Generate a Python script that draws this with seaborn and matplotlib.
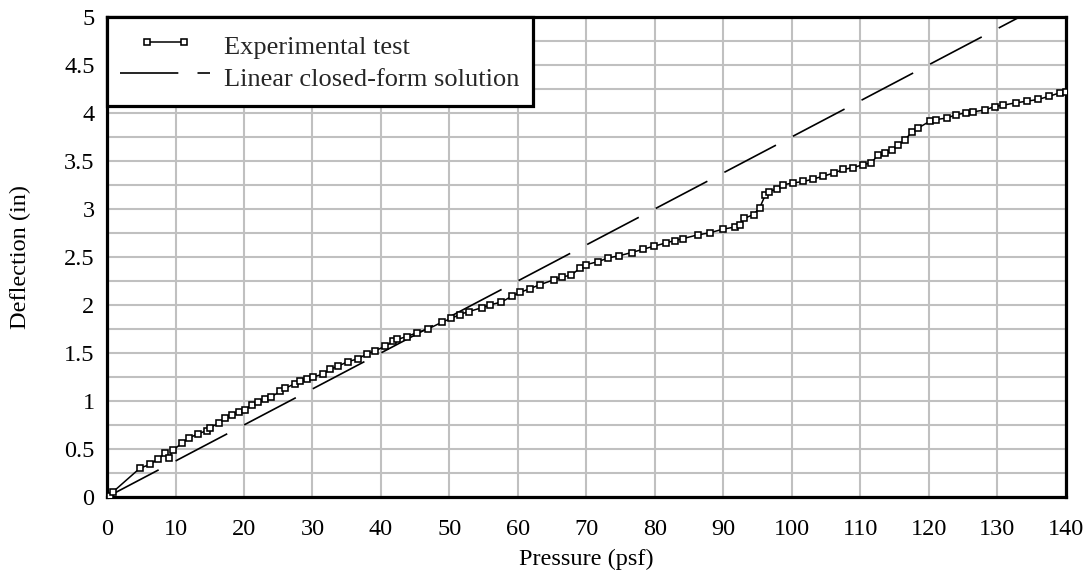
import matplotlib
matplotlib.use("Agg")
import matplotlib.pyplot as plt
from matplotlib.legend_handler import HandlerLine2D
from matplotlib.ticker import MultipleLocator, FormatStrFormatter
import seaborn as sns
import pandas as pd

# Experimental test data (pressure psf, deflection in)
exp_pressure = [0, 0.2, 0.4, 0.9, 4.8, 6.3, 7.5, 8.5, 9.0, 9.7, 10.9, 11.9, 13.3, 14.6, 15.0,
                16.3, 17.2, 18.2, 19.2, 20.2, 21.1, 22.1, 23.1, 24.0, 25.3, 26.0, 27.4, 28.2,
                29.2, 30.1, 31.6, 32.6, 33.8, 35.2, 36.7, 37.9, 39.1, 40.6, 41.8, 42.3, 43.8,
                45.2, 46.9, 48.9, 50.3, 51.5, 52.8, 54.7, 55.9, 57.6, 59.1, 60.3, 61.8, 63.2,
                65.2, 66.4, 67.8, 69.0, 70.0, 71.7, 73.2, 74.7, 76.6, 78.3, 79.8, 81.6, 82.9,
                84.1, 86.3, 88.0, 90.0, 91.7, 92.4, 93.0, 94.4, 95.3, 96.1, 96.6, 97.8, 98.7,
                100.2, 101.7, 103.1, 104.6, 106.2, 107.5, 109.0, 110.4, 111.6, 112.6, 113.6,
                114.6, 115.5, 116.5, 117.5, 118.4, 120.1, 121.1, 122.6, 124.0, 125.5, 126.5,
                128.2, 129.6, 130.9, 132.8, 134.3, 136.0, 137.5, 139.2, 140.0]
exp_deflection = [0, 0.0, 0.01, 0.055, 0.30, 0.34, 0.40, 0.455, 0.41, 0.49, 0.56, 0.61, 0.66,
                  0.69, 0.72, 0.77, 0.82, 0.855, 0.88, 0.91, 0.96, 0.99, 1.02, 1.045, 1.10, 1.13,
                  1.18, 1.21, 1.23, 1.25, 1.28, 1.33, 1.365, 1.41, 1.44, 1.49, 1.52, 1.57, 1.62,
                  1.64, 1.67, 1.71, 1.75, 1.82, 1.86, 1.90, 1.93, 1.97, 2.00, 2.03, 2.09, 2.13,
                  2.17, 2.21, 2.26, 2.29, 2.31, 2.38, 2.42, 2.45, 2.49, 2.51, 2.545, 2.58, 2.61,
                  2.645, 2.67, 2.69, 2.73, 2.75, 2.79, 2.81, 2.83, 2.90, 2.94, 3.01, 3.14, 3.18,
                  3.205, 3.25, 3.27, 3.285, 3.31, 3.34, 3.375, 3.41, 3.43, 3.46, 3.48, 3.56,
                  3.58, 3.61, 3.66, 3.72, 3.795, 3.84, 3.91, 3.93, 3.945, 3.98, 4.00, 4.01, 4.03,
                  4.065, 4.08, 4.105, 4.12, 4.14, 4.17, 4.21, 4.22]

# Linear closed-form solution
lin_pressure = [0, 140]
lin_deflection = [0, 5.25]

x_ticks = list(range(0, 141, 10))
y_ticks = [0, 0.5, 1, 1.5, 2, 2.5, 3, 3.5, 4, 4.5, 5]

exp_df = pd.DataFrame({"Pressure": exp_pressure, "Deflection": exp_deflection})
lin_df = pd.DataFrame({"Pressure": lin_pressure, "Deflection": lin_deflection})

sns.set_theme(style="white")
plt.rcParams["font.family"] = ["Liberation Serif", "DejaVu Serif"]

fig = plt.figure(figsize=(10.92, 5.79), dpi=100)
ax = fig.add_axes([0.098, 0.1416, 0.878, 0.8295])

sns.lineplot(data=exp_df, x="Pressure", y="Deflection", ax=ax, estimator=None, sort=False,
             color="black", linewidth=1.1, marker="s", markersize=4.6,
             markerfacecolor="white", markeredgecolor="black", markeredgewidth=1.15,
             label="Experimental test", zorder=4)
sns.lineplot(data=lin_df, x="Pressure", y="Deflection", ax=ax, estimator=None, sort=False,
             color="black", linewidth=1.2, dashes=False, label="Linear closed-form solution",
             zorder=3)
lin_line = ax.lines[-1]
lin_line.set_dashes((35, 11.5))

ax.set_xlim(0, 140)
ax.set_ylim(0, 5)
ax.set_xticks(x_ticks)
ax.set_yticks(y_ticks)
ax.yaxis.set_minor_locator(MultipleLocator(0.25))
ax.yaxis.set_major_formatter(FormatStrFormatter("%g"))
ax.grid(True, which="both", axis="y", color="#c0c0c0", linewidth=1.5)
ax.grid(True, which="major", axis="x", color="#c0c0c0", linewidth=1.5)
ax.set_axisbelow(True)
ax.tick_params(axis="both", which="both", length=0, labelsize=17.5, colors="black")
ax.tick_params(axis="x", pad=16)
ax.tick_params(axis="y", pad=9)
ax.set_xlabel("Pressure (psf)", fontsize=17.5, color="black", labelpad=6)
ax.set_ylabel("Deflection (in)", fontsize=17.5, color="black", labelpad=24)
for s in ax.spines.values():
    s.set_visible(True)
    s.set_color("black")
    s.set_linewidth(2.3)

exp_line = ax.lines[0]
leg = ax.legend(handles=[exp_line, lin_line], loc="upper left", borderaxespad=0,
                fontsize=19, frameon=True, fancybox=False, framealpha=1,
                edgecolor="black", handlelength=3.4, handletextpad=0.55,
                borderpad=0.5, labelspacing=0.0, handleheight=1.45,
                handler_map={exp_line: HandlerLine2D(numpoints=2, marker_pad=1.0)})
leg.get_frame().set_linewidth(2.3)
leg.set_zorder(10)

fig.savefig("out.png", dpi=100)
